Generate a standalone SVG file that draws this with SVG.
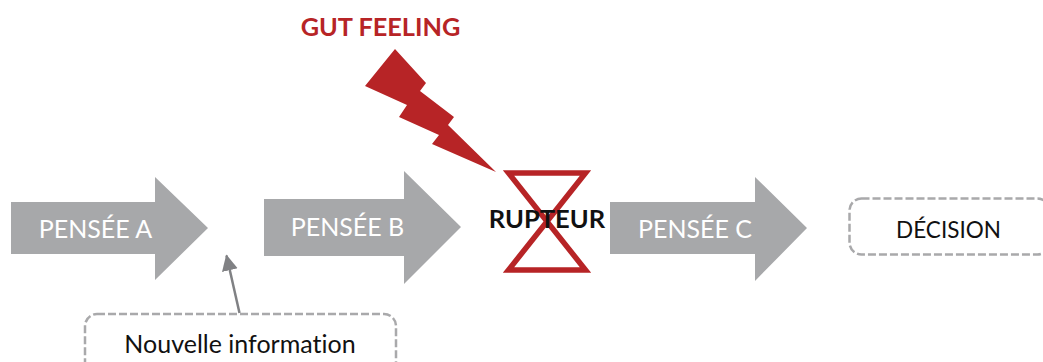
<svg xmlns="http://www.w3.org/2000/svg" width="1043" height="362" viewBox="0 0 1043 362">
<style>
.arrow{fill:#a7a8aa}
.arrowlabel{font-family:"Lato","Liberation Sans",sans-serif;font-size:25px;fill:#fff;text-anchor:middle;font-variant-ligatures:none}
.box{fill:none;stroke:#a9a9ab;stroke-width:2.5;stroke-dasharray:8 3}
.boxlabel{font-family:"Lato","Liberation Sans",sans-serif;fill:#111;text-anchor:middle;font-variant-ligatures:none}
.red{fill:#b72426}
</style>
<defs>
<marker id="head" markerUnits="userSpaceOnUse" markerWidth="18" markerHeight="20" refX="15" refY="8" orient="auto">
<path d="M0 0L16 8L0 16Z" fill="#808184"/>
</marker>
</defs>
<rect width="1043" height="362" fill="#fff"/>
<g id="connectors">
<line x1="239.500" y1="313" x2="226.500" y2="255.500" stroke="#808184" stroke-width="2.500" marker-end="url(#head)"/>
</g>
<g id="pensee-a">
<path class="arrow" d="M11 202H155V177L208 228L155 280V254H11Z"/>
<text class="arrowlabel" x="95.500" y="238">PENSÉE A</text>
</g>
<g id="pensee-b">
<path class="arrow" d="M264 199H404V171L461 227L404 284V256H264Z"/>
<text class="arrowlabel" x="347.500" y="236">PENSÉE B</text>
</g>
<g id="pensee-c">
<path class="arrow" d="M610 202H755V177L807 228L755 281V254H610Z"/>
<text class="arrowlabel" x="695" y="238">PENSÉE C</text>
</g>
<g id="decision">
<rect class="box" x="849.500" y="198.500" width="200" height="56" rx="12"/>
<text class="boxlabel" x="948.500" y="237.500" font-size="22.500">DÉCISION</text>
</g>
<g id="nouvelle-information">
<rect class="box" x="85" y="314" width="311" height="70" rx="12"/>
<text class="boxlabel" x="240" y="352.500" font-size="25">Nouvelle information</text>
</g>
<g id="gut-feeling">
<text x="380.500" y="35.500" font-family="Lato,'Liberation Sans',sans-serif" font-size="25.300" font-weight="700" fill="#b72426" text-anchor="middle">GUT FEELING</text>
<path class="red" d="M395 49L426 83L420 91L454 117L448 125L496 172L432 144L439 135L399 117L407 105L365 86Z"/>
</g>
<g id="rupteur">
<path d="M508.500 173H585.500L508.500 270H585.500Z" fill="none" stroke="#b72426" stroke-width="5.500"/>
<text x="547" y="228" font-family="Lato,'Liberation Sans',sans-serif" font-size="25.500" font-weight="700" fill="#111" text-anchor="middle">RUPTEUR</text>
</g>
</svg>
